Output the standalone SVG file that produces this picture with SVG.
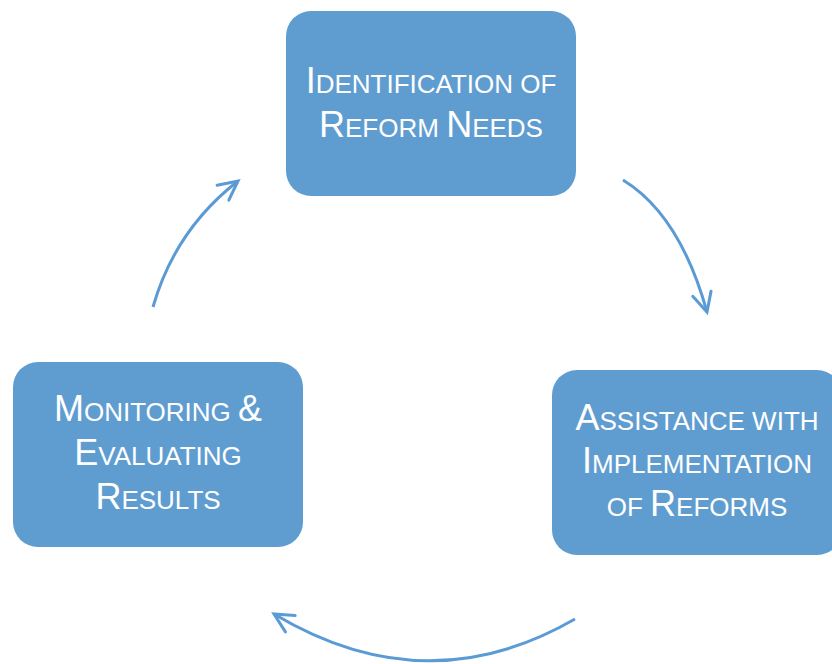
<svg xmlns="http://www.w3.org/2000/svg" width="832" height="664" viewBox="0 0 832 664">
<style>
.box{fill:#5f9dd1;}
.lbl{fill:#ffffff;font-family:"Liberation Sans",Arial,sans-serif;font-size:26px;text-anchor:middle;}
.cap{font-size:36px;}
.conn{fill:none;stroke:#5b9bd5;stroke-width:3;}
</style>
<defs>
<marker id="head" markerUnits="userSpaceOnUse" orient="auto" refX="0" refY="0" markerWidth="30" markerHeight="30" viewBox="-25 -15 30 30" overflow="visible">
<path d="M-19,-9.5 L0,0 L-19,9.5" fill="none" stroke="#5b9bd5" stroke-width="3" stroke-linecap="round" stroke-linejoin="miter"/>
</marker>
</defs>
<rect width="832" height="664" fill="#ffffff"/>
<g id="connectors">
<path class="conn" d="M153,307 Q175,230 238,181" marker-end="url(#head)"/>
<path class="conn" d="M623,180 Q680,215 707,312" marker-end="url(#head)"/>
<path class="conn" d="M575,619 Q426,705 274,614" marker-end="url(#head)"/>
</g>
<g id="node-identification">
<rect class="box" x="286" y="11" width="290" height="185" rx="25"/>
<text class="lbl" x="431" y="93"><tspan class="cap">I</tspan>DENTIFICATION OF</text>
<text class="lbl" x="431" y="137"><tspan class="cap">R</tspan>EFORM <tspan class="cap">N</tspan>EEDS</text>
</g>
<g id="node-assistance">
<rect class="box" x="552" y="370" width="290" height="185" rx="25"/>
<text class="lbl" x="697" y="430"><tspan class="cap">A</tspan>SSISTANCE WITH</text>
<text class="lbl" x="697" y="473"><tspan class="cap">I</tspan>MPLEMENTATION</text>
<text class="lbl" x="697" y="516">OF <tspan class="cap">R</tspan>EFORMS</text>
</g>
<g id="node-monitoring">
<rect class="box" x="13" y="362" width="290" height="185" rx="25"/>
<text class="lbl" x="158" y="421"><tspan class="cap">M</tspan>ONITORING <tspan class="cap">&amp;</tspan></text>
<text class="lbl" x="158" y="465"><tspan class="cap">E</tspan>VALUATING</text>
<text class="lbl" x="158" y="509"><tspan class="cap">R</tspan>ESULTS</text>
</g>
</svg>
